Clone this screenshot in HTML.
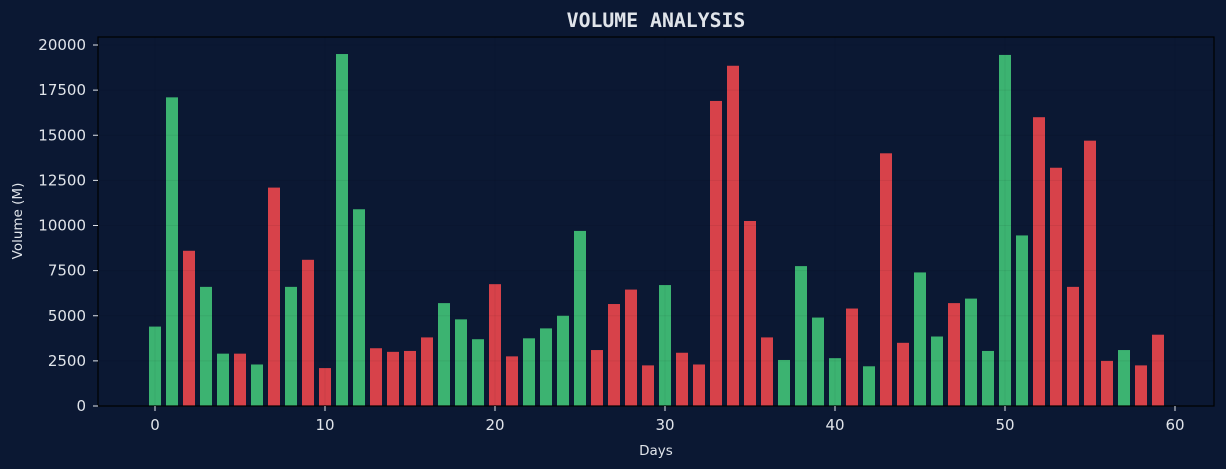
<!DOCTYPE html>
<html><head><meta charset="utf-8"><style>
html,body{margin:0;padding:0;background:#0b1833;}
svg{display:block}
text{font-family:"DejaVu Sans","Liberation Sans",sans-serif;fill:#e0e4ea}
</style></head><body>
<svg width="1226" height="469" xmlns="http://www.w3.org/2000/svg">
<rect width="1226" height="469" fill="#0b1833"/>
<text x="656" y="27" text-anchor="middle" style="font-family:'DejaVu Sans Mono','Liberation Mono',monospace;font-weight:bold;font-size:19.8px">VOLUME ANALYSIS</text>
<g id="bars"></g>
<g id="grid"></g>
<rect x="98" y="37" width="1116" height="369" fill="none" stroke="#000" stroke-width="1.2"/>
<g id="ticks"></g>
<text x="656" y="455" text-anchor="middle" font-size="13.5">Days</text>
<text transform="translate(22,221) rotate(-90)" text-anchor="middle" font-size="13.5">Volume (M)</text>
</svg>
<script>
var v=[4400,17100,8600,6600,2900,2900,2300,12100,6600,8100,2100,19500,10900,3200,3000,3050,3800,5700,4800,3700,6750,2750,3750,4300,5000,9700,3100,5650,6450,2250,6700,2950,2300,16900,18850,10250,3800,2550,7750,4900,2650,5400,2200,14000,3500,7400,3850,5700,5950,3050,19450,9450,16000,13200,6600,14700,2500,3100,2250,3950];
var ns="http://www.w3.org/2000/svg",S=18.05,B=406;
var cols=["g","g","r","g","g","r","g","r","g","r","r","g","g","r","r","r","r","g","g","g","r","r","g","g","g","g","r","r","r","r","g","r","r","r","r","r","r","g","g","g","g","r","g","r","r","g","g","r","g","g","g","g","r","r","r","r","r","g","r","r"];
var bars=document.getElementById("bars");
v.forEach(function(x,i){var r=document.createElementNS(ns,"rect");var h=x/1000*S;
r.setAttribute("x",155+17*i-6);r.setAttribute("y",B-h);r.setAttribute("width",12);r.setAttribute("height",h);
r.setAttribute("fill",cols[i]=="g"?"#3cb371":"#d7424a");bars.appendChild(r);});
var g=document.getElementById("grid"),t=document.getElementById("ticks");
for(var k=0;k<=8;k++){var y=B-k*2.5*S;
var l=document.createElementNS(ns,"line");l.setAttribute("x1",98);l.setAttribute("x2",1214);l.setAttribute("y1",y);l.setAttribute("y2",y);l.setAttribute("stroke","rgba(0,0,0,0.06)");g.appendChild(l);
var tk=document.createElementNS(ns,"line");tk.setAttribute("x1",93);tk.setAttribute("x2",98);tk.setAttribute("y1",y);tk.setAttribute("y2",y);tk.setAttribute("stroke","#e0e4ea");t.appendChild(tk);
var tx=document.createElementNS(ns,"text");tx.setAttribute("x",86);tx.setAttribute("y",y+5);tx.setAttribute("text-anchor","end");tx.setAttribute("font-size","15");tx.textContent=String(k*2500);t.appendChild(tx);}
for(var d=0;d<=60;d+=10){var x=155+17*d;
var l=document.createElementNS(ns,"line");l.setAttribute("x1",x);l.setAttribute("x2",x);l.setAttribute("y1",37);l.setAttribute("y2",406);l.setAttribute("stroke","rgba(0,0,0,0.06)");g.appendChild(l);
var tk=document.createElementNS(ns,"line");tk.setAttribute("x1",x);tk.setAttribute("x2",x);tk.setAttribute("y1",406);tk.setAttribute("y2",411);tk.setAttribute("stroke","#e0e4ea");t.appendChild(tk);
var tx=document.createElementNS(ns,"text");tx.setAttribute("x",x);tx.setAttribute("y",430);tx.setAttribute("text-anchor","middle");tx.setAttribute("font-size","15");tx.textContent=String(d);t.appendChild(tx);}
</script>
</body></html>
